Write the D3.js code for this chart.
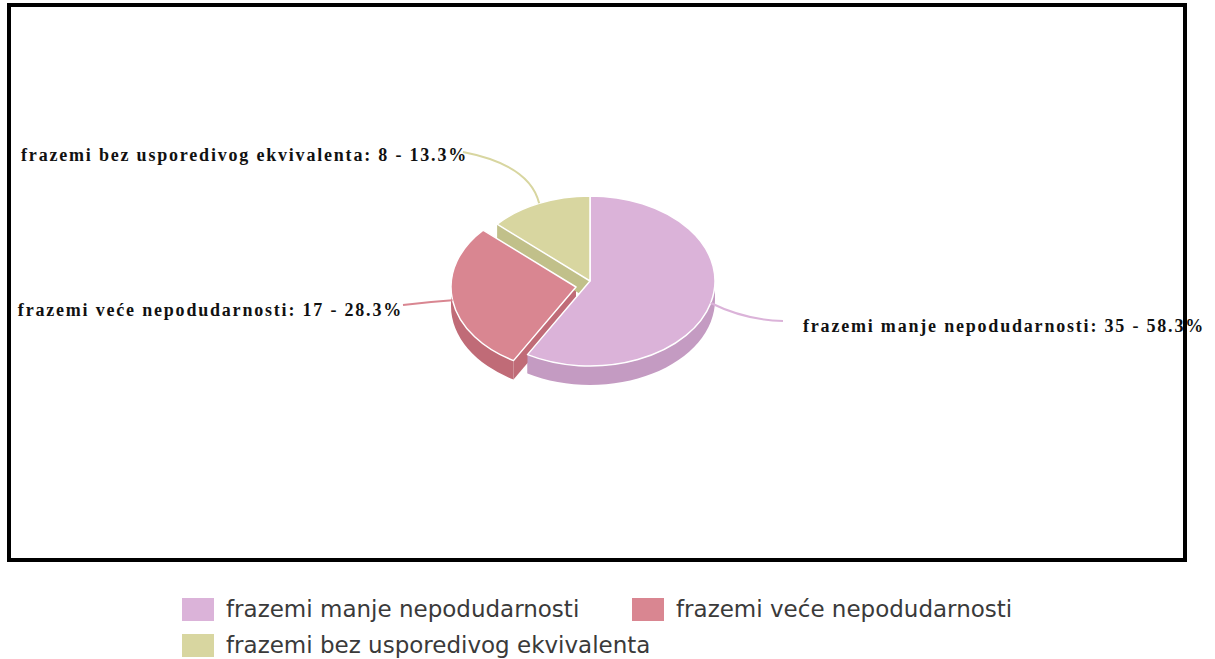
<!DOCTYPE html>
<html>
<head>
<meta charset="utf-8">
<script src="https://cdn.jsdelivr.net/npm/d3@7"></script>
<style>
  body { margin: 0; background: #fff; }
  svg { display: block; }
</style>
</head>
<body>
<script>
// pie data
const categories = ['frazemi manje nepodudarnosti', 'frazemi veće nepodudarnosti', 'frazemi bez usporedivog ekvivalenta'];
const counts = [35, 17, 8];
const percents = ['58.3%', '28.3%', '13.3%'];
const exploded = [false, true, false];

const topColors = ['#dbb3d9', '#d98691', '#d8d6a0'];
const sideColors = ['#c49bc2', '#c06b77', '#c1c08a'];

const W = 1215, H = 659;
const cx = 590, cy = 281, rx = 125, ry = 85, depth = 19;
const explodeOff = { dx: -14, dy: 6 };

const svg = d3.select('body').append('svg')
  .attr('width', W)
  .attr('height', H);

const colorTop = d3.scaleOrdinal().domain(categories).range(topColors);
const colorSide = d3.scaleOrdinal().domain(categories).range(sideColors);

const pie = d3.pie().sort(null).value(d => d.count);
const slices = pie(categories.map((c, i) => ({ name: c, count: counts[i], pct: percents[i], exploded: exploded[i] })));

// angle measured clockwise from 12 o'clock
function pt(s, a, dz) {
  const ox = s.data.exploded ? explodeOff.dx : 0;
  const oy = s.data.exploded ? explodeOff.dy : 0;
  return [cx + ox + rx * Math.sin(a), cy + oy - ry * Math.cos(a) + (dz || 0)];
}
function centre(s, dz) {
  const ox = s.data.exploded ? explodeOff.dx : 0;
  const oy = s.data.exploded ? explodeOff.dy : 0;
  return [cx + ox, cy + oy + (dz || 0)];
}

function topPath(s) {
  const c = centre(s), p0 = pt(s, s.startAngle), p1 = pt(s, s.endAngle);
  const large = s.endAngle - s.startAngle > Math.PI ? 1 : 0;
  return `M${c}L${p0}A${rx},${ry} 0 ${large} 1 ${p1}Z`;
}

function facePath(s, a) {
  const c = centre(s), p = pt(s, a), c2 = centre(s, depth), p2 = pt(s, a, depth);
  return `M${c}L${p}L${p2}L${c2}Z`;
}

function wallPath(s) {
  const a0 = Math.max(s.startAngle, Math.PI / 2);
  const a1 = Math.min(s.endAngle, Math.PI * 1.5);
  if (a1 <= a0) return null;
  const p0 = pt(s, a0), p1 = pt(s, a1), q1 = pt(s, a1, depth), q0 = pt(s, a0, depth);
  return `M${p0}A${rx},${ry} 0 0 1 ${p1}L${q1}A${rx},${ry} 0 0 0 ${q0}Z`;
}

const g = svg.append('g');

// radial cut faces
slices.forEach(s => {
  [s.startAngle, s.endAngle].forEach(a => {
    g.append('path')
      .attr('d', facePath(s, a))
      .attr('fill', colorSide(s.data.name));
  });
});

// outer walls
slices.forEach(s => {
  const d = wallPath(s);
  if (d) g.append('path').attr('d', d).attr('fill', colorSide(s.data.name));
});

// tops
g.selectAll('path.top')
  .data(slices)
  .join('path')
  .attr('class', 'top')
  .attr('d', topPath)
  .attr('fill', d => colorTop(d.data.name))
  .attr('stroke', '#fff')
  .attr('stroke-width', 1.5)
  .attr('stroke-linejoin', 'round');

// leader lines + labels
const labelSpec = [
  { x: 783, y: 321, cx: 745, cy: 320, anchor: 'start', tx: 803, ty: 332 },
  { x: 403, y: 305, cx: 428, cy: 302, anchor: 'end', tx: 403, ty: 316 },
  { x: 463, y: 152, cx: 530, cy: 165, anchor: 'end', tx: 468, ty: 161 }
];

slices.forEach((s, i) => {
  const mid = (s.startAngle + s.endAngle) / 2;
  const p = pt(s, mid);
  const L = labelSpec[i];
  g.append('path')
    .attr('d', `M${p}Q${L.cx},${L.cy} ${L.x},${L.y}`)
    .attr('fill', 'none')
    .attr('stroke', colorTop(s.data.name))
    .attr('stroke-width', 2);
  g.append('text')
    .attr('x', L.tx)
    .attr('y', L.ty)
    .attr('text-anchor', L.anchor)
    .attr('font-family', '"Liberation Serif", "Times New Roman", serif')
    .attr('font-weight', 'bold')
    .attr('font-size', 18)
    .attr('letter-spacing', 1.8)
    .attr('fill', '#111')
    .text(`${s.data.name}: ${s.data.count} - ${s.data.pct}`);
});

// frame
svg.append('rect')
  .attr('x', 9).attr('y', 5)
  .attr('width', 1176).attr('height', 555)
  .attr('fill', 'none')
  .attr('stroke', '#000')
  .attr('stroke-width', 4);

// legend
const legend = svg.append('g');
const items = legend.selectAll('g')
  .data(categories)
  .join('g')
  .attr('transform', (d, i) => `translate(${182 + (i % 2) * 450},${598 + Math.floor(i / 2) * 36})`);
items.append('rect')
  .attr('width', 32).attr('height', 23)
  .attr('fill', d => colorTop(d));
items.append('text')
  .attr('x', 44)
  .attr('y', 19)
  .attr('font-family', '"DejaVu Sans", sans-serif')
  .attr('font-size', 23)
  .attr('fill', '#3a3a3a')
  .text(d => d);
</script>
</body>
</html>
